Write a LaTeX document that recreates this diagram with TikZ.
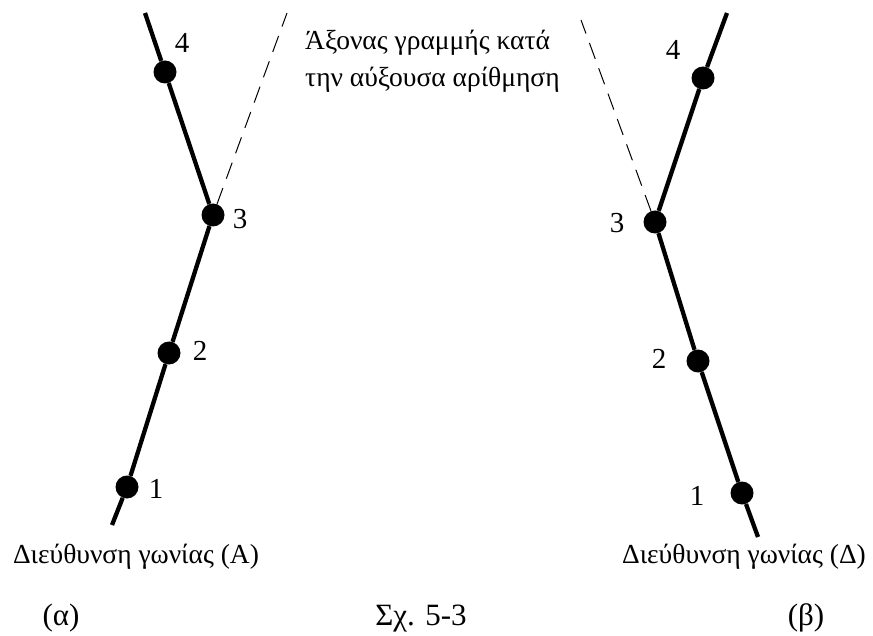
\documentclass[tikz,border=0pt]{standalone}
\usepackage{fontspec}
\setmainfont{Liberation Serif}
\begin{document}
\begin{tikzpicture}[x=1pt,y=-1pt,
  dot/.style={circle,fill=black,inner sep=0pt,minimum size=23pt},
  thickline/.style={line width=4.3pt},
  axisline/.style={line width=1pt,dash pattern=on 17pt off 10pt},
  numlab/.style={font=\fontsize{29}{29}\selectfont,inner sep=0pt},
  dirlab/.style={font=\fontsize{27.5}{37}\selectfont,inner sep=0pt,anchor=base},
  caplab/.style={font=\fontsize{31}{31}\selectfont,inner sep=0pt,anchor=base}]
\useasboundingbox (0,0) rectangle (873,636);
% left (alpha)
\coordinate (Ltop) at (145,13);
\coordinate (Lbot) at (112,525);
\coordinate (Ldash) at (287,13);
\node[dot] (L4) at (165,72) {};
\node[dot] (L3) at (213,215) {};
\node[dot] (L2) at (169,353) {};
\node[dot] (L1) at (127,487) {};
\draw[thickline] (Ltop) -- (L4) -- (L3) -- (L2) -- (L1) -- (Lbot);
\draw[axisline] (L3) -- (Ldash);
\node[numlab] (Ln4) at (182,43) {4};
\node[numlab] (Ln3) at (240,219) {3};
\node[numlab] (Ln2) at (200,351) {2};
\node[numlab] (Ln1) at (156,489) {1};
% right (beta)
\coordinate (Rtop) at (727,13);
\coordinate (Rbot) at (758,537);
\coordinate (Rdash) at (581,20);
\node[dot] (R4) at (703,78) {};
\node[dot] (R3) at (655,222) {};
\node[dot] (R2) at (698,361) {};
\node[dot] (R1) at (742,493) {};
\draw[thickline] (Rtop) -- (R4) -- (R3) -- (R2) -- (R1) -- (Rbot);
\draw[axisline] (R3) -- (Rdash);
\node[numlab] (Rn4) at (673,50) {4};
\node[numlab] (Rn3) at (617,223) {3};
\node[numlab] (Rn2) at (659,359) {2};
\node[numlab] (Rn1) at (697,496) {1};
% texts
\node[dirlab,anchor=base west,align=left] (axis) at (305,87) {Άξονας γραμμής κατά\\την αύξουσα αρίθμηση};
\node[dirlab] (dA) at (136,563) {Διεύθυνση γωνίας (Α)};
\node[dirlab] (dD) at (744,563) {Διεύθυνση γωνίας (Δ)};
\node[caplab] (ca) at (61,625) {(α)};
\node[caplab] (cs) at (421,625) {Σχ. 5-3};
\node[caplab] (cb) at (806,625) {(β)};
\end{tikzpicture}
\end{document}
